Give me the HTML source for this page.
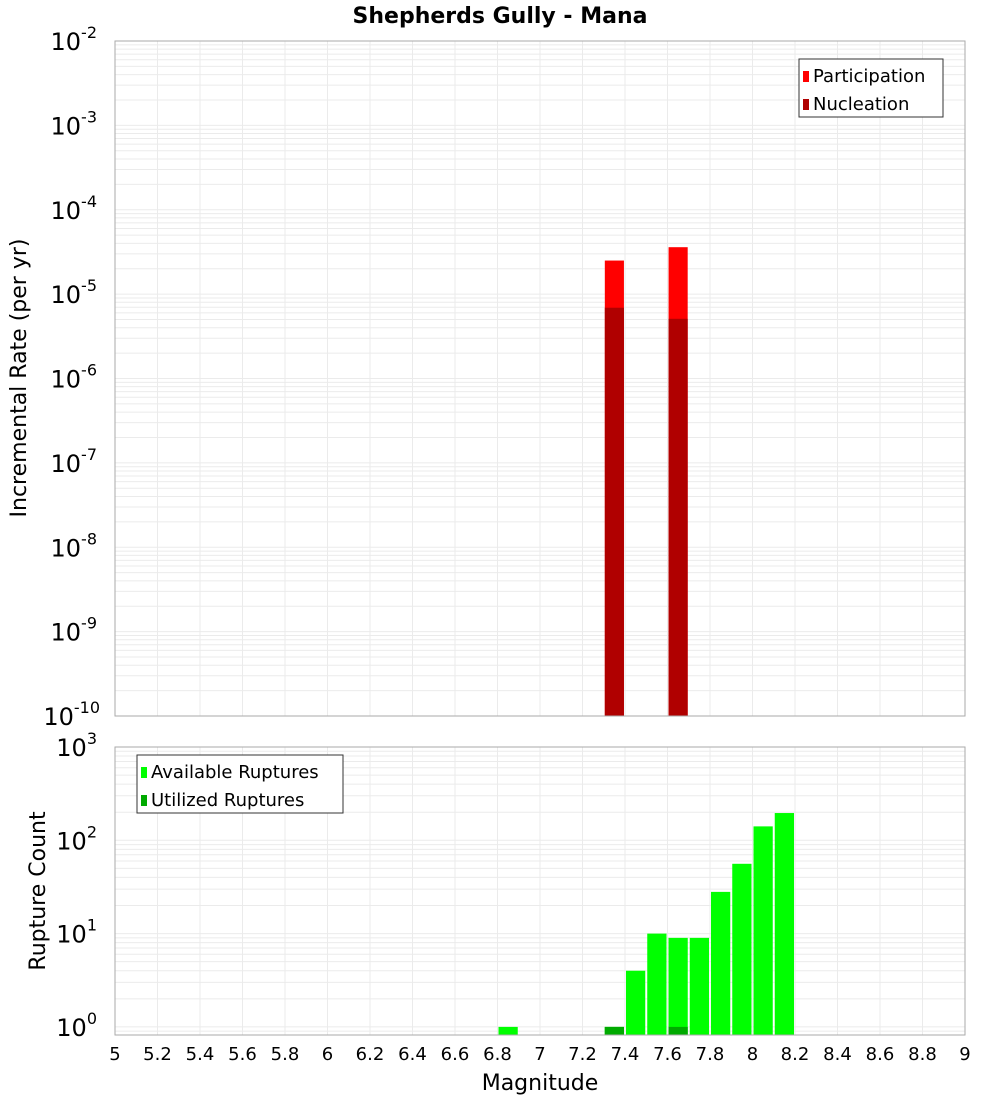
<!DOCTYPE html>
<html><head><meta charset="utf-8"><style>
body{margin:0;background:#fff;font-family:"DejaVu Sans","Liberation Sans",sans-serif}
svg text{font-family:"DejaVu Sans","Liberation Sans",sans-serif}
</style></head><body>
<svg id="c" width="1000" height="1100" xmlns="http://www.w3.org/2000/svg"></svg>
<script>
const binCenters=[7.35,7.65];
const participation=[2.5e-5,3.6e-5];
const nucleation=[6.9e-6,5.1e-6];
const countBins=[6.85,7.35,7.45,7.55,7.65,7.75,7.85,7.95,8.05,8.15];
const available=[1,1,4,10,9,9,28,56,141,196];
const utilBins=[7.35,7.65];
const utilized=[1,1];
const xTicks=[5,5.2,5.4,5.6,5.8,6,6.2,6.4,6.6,6.8,7,7.2,7.4,7.6,7.8,8,8.2,8.4,8.6,8.8,9];

const svg=document.getElementById('c');
const NS='http://www.w3.org/2000/svg';
function mk(t,a,p){const e=document.createElementNS(NS,t);for(const k in a)e.setAttribute(k,a[k]);(p||svg).appendChild(e);return e;}
const X0=115,X1=965;
const xs=v=>X0+(v-5)/4*(X1-X0);
const T={top:41,bot:716,lo:-10,hi:-2};
const B={top:747,bot:1035,dec:93.3};
const yT=v=>T.top+(T.hi-Math.log10(v))*(T.bot-T.top)/(T.hi-T.lo);
const yB=v=>B.top+(3-Math.log10(v))*B.dec;

function grid(top,bot,yf,lo,hi){
  const g=mk('g',{});
  
  
  for(let d=lo;d<hi;d++)for(let m=1;m<10;m++){const y=yf(m*Math.pow(10,d));if(y>=top&&y<=bot)mk('line',{x1:X0,x2:X1,y1:y,y2:y,stroke:'#ebebeb','stroke-width':1},g);}
  xTicks.forEach(t=>{const x=xs(t);mk('line',{x1:x,x2:x,y1:top,y2:bot,stroke:'#ebebeb','stroke-width':1},g);});
}
grid(T.top,T.bot,yT,-10,-2);
grid(B.top,B.bot,yB,-1,3);

// top bars
binCenters.forEach((c,i)=>{
  const x=xs(c-0.045),w=xs(c+0.045)-x;
  const p=mk('rect',{x:x,y:yT(participation[i]),width:w,height:T.bot-yT(participation[i]),fill:'#ff0000'});
  
  
  const n=mk('rect',{x:x,y:yT(nucleation[i]),width:w,height:T.bot-yT(nucleation[i]),fill:'#b00000'});
  
  
});
// bottom bars
countBins.forEach((c,i)=>{
  const x=xs(c-0.05)+1,w=xs(c+0.05)-x-1;
  const r=mk('rect',{x:x,y:yB(available[i]),width:w,height:B.bot-yB(available[i]),fill:'#00ff00'});
  
  
});
utilBins.forEach((c,i)=>{
  const x=xs(c-0.05)+1,w=xs(c+0.05)-x-1;
  const r=mk('rect',{x:x,y:yB(utilized[i]),width:w,height:B.bot-yB(utilized[i]),fill:'#00aa00'});
  
  
});
// frames
[[T.top,T.bot],[B.top,B.bot]].forEach(([a,b])=>{const r=mk('rect',{x:X0,y:a,width:X1-X0,height:b-a,fill:'none',stroke:'#aaaaaa','stroke-width':1});});

function pow(x,y,exp,name){
  const t=mk('text',{x:x,y:y,'font-size':24,'text-anchor':'end',fill:'#000'});
  
  
  t.textContent='10';
  const s=mk('tspan',{dy:-12,'font-size':16},t);s.textContent=exp;
}
for(let d=-2;d>=-10;d--)pow(d===-10?100:97,yT(Math.pow(10,d))+9,String(d).replace('-','-'),'y-tick-label');
for(let d=3;d>=0;d--)pow(97,yB(Math.pow(10,d))+9,String(d),'y-tick-label');
// the -10 exponent extends right; keep layout similar
xTicks.forEach(t=>{const e=mk('text',{x:xs(t),y:1060,'font-size':18,'text-anchor':'middle'});e.textContent=String(t);});

function txt(s,a,name){const e=mk('text',a);e.textContent=s;return e;}
txt('Shepherds Gully - Mana',{x:500,y:23,'font-size':22,'font-weight':'bold','text-anchor':'middle'},'chart-title');
txt('Magnitude',{x:540,y:1090,'font-size':22,'text-anchor':'middle'},'x-axis-title');
txt('Incremental Rate (per yr)',{x:26,y:378,'font-size':22,'text-anchor':'middle',transform:'rotate(-90 26 378)'},'y-axis-title-top');
txt('Rupture Count',{x:45,y:891,'font-size':22,'text-anchor':'middle',transform:'rotate(-90 45 891)'},'y-axis-title-bottom');

function legend(x,y,w,items,name){
  const g=mk('g',{});
  
  
  mk('rect',{x:x,y:y,width:w,height:58,fill:'#fff',stroke:'#333','stroke-width':1},g);
  items.forEach(([lab,col],i)=>{
    mk('rect',{x:x+4,y:y+12+i*28,width:6,height:11,fill:col},g);
    const t=mk('text',{x:x+14,y:y+23+i*28,'font-size':18},g);t.textContent=lab;
  });
}
legend(799,59,144,[['Participation','#ff0000'],['Nucleation','#b00000']],'legend-top');
legend(137,755,206,[['Available Ruptures','#00ff00'],['Utilized Ruptures','#00aa00']],'legend-bottom');
</script>
</body></html>
